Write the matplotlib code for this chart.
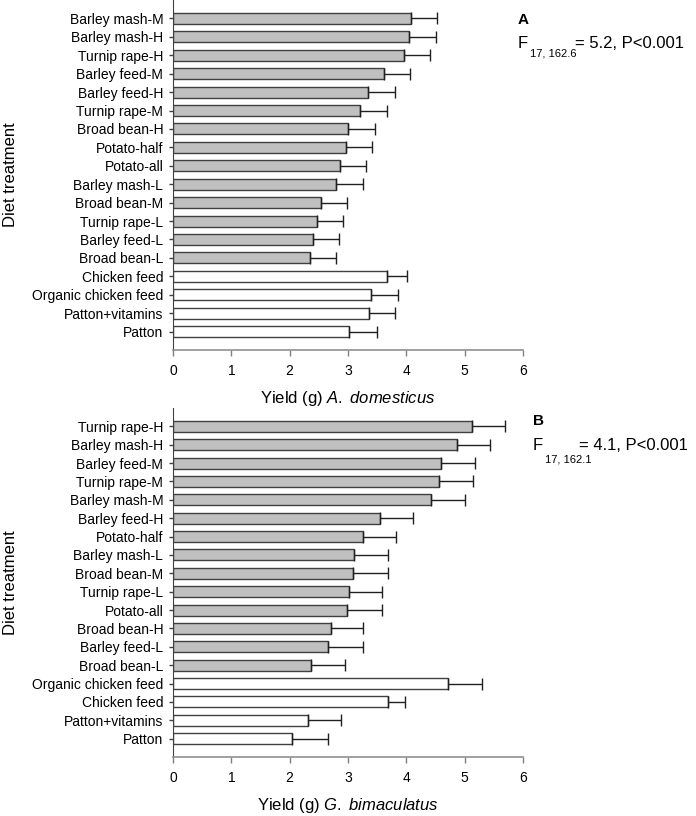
import numpy as np
import matplotlib
matplotlib.use("Agg")
import matplotlib.pyplot as plt

plt.rcParams['font.family'] = ['Liberation Sans', 'DejaVu Sans']
plt.rcParams['mathtext.fontset'] = 'custom'
plt.rcParams['mathtext.rm'] = 'Liberation Sans'
plt.rcParams['mathtext.it'] = 'Liberation Sans:italic'

# panel A: A. domesticus (top to bottom)
labels_a = ["Barley mash-M", "Barley mash-H", "Turnip rape-H", "Barley feed-M",
            "Barley feed-H", "Turnip rape-M", "Broad bean-H", "Potato-half",
            "Potato-all", "Barley mash-L", "Broad bean-M", "Turnip rape-L",
            "Barley feed-L", "Broad bean-L", "Chicken feed", "Organic chicken feed",
            "Patton+vitamins", "Patton"]
mean_a = [4.08, 4.04, 3.96, 3.61, 3.35, 3.20, 3.00, 2.96, 2.86, 2.80, 2.54, 2.47,
          2.40, 2.34, 3.67, 3.39, 3.36, 3.02]
top_a = [4.52, 4.50, 4.41, 4.06, 3.81, 3.66, 3.46, 3.41, 3.31, 3.25, 2.98, 2.92,
         2.85, 2.80, 4.01, 3.85, 3.81, 3.49]
control_a = [False] * 14 + [True] * 4

# panel B: G. bimaculatus (top to bottom)
labels_b = ["Turnip rape-H", "Barley mash-H", "Barley feed-M", "Turnip rape-M",
            "Barley mash-M", "Barley feed-H", "Potato-half", "Barley mash-L",
            "Broad bean-M", "Turnip rape-L", "Potato-all", "Broad bean-H",
            "Barley feed-L", "Broad bean-L", "Organic chicken feed", "Chicken feed",
            "Patton+vitamins", "Patton"]
mean_b = [5.12, 4.86, 4.59, 4.56, 4.43, 3.54, 3.25, 3.10, 3.08, 3.02, 2.98, 2.70,
          2.65, 2.36, 4.72, 3.69, 2.31, 2.04]
top_b = [5.69, 5.43, 5.17, 5.14, 5.00, 4.12, 3.83, 3.69, 3.68, 3.59, 3.58, 3.26,
         3.25, 2.94, 5.30, 3.98, 2.88, 2.65]
control_b = [False] * 14 + [True] * 4


def panel(ax, labels, means, tops, control, xlab_sp):
    n = len(labels)
    y = np.arange(n)[::-1]
    means = np.array(means)
    err = np.array(tops) - means
    colors = ['white' if c else '#c0c0c0' for c in control]
    ax.barh(y, means, height=0.6, color=colors, edgecolor='#404040', linewidth=1.0,
            xerr=[np.zeros(n), err],
            error_kw=dict(ecolor='#202020', elinewidth=1.0, capsize=4.5, capthick=1.0))
    ax.set_xlim(0, 6)
    ax.set_ylim(-1, n)
    ax.set_yticks(y)
    ax.set_yticklabels(labels, fontsize=10)
    ax.set_xticks(range(7))
    ax.tick_params(axis='x', labelsize=10, length=4, width=1, color='#808080', pad=6)
    ax.tick_params(axis='y', length=3, width=1, color='#404040', pad=4)
    for s in ['top', 'right']:
        ax.spines[s].set_visible(False)
    ax.spines['bottom'].set_color('#909090')
    ax.spines['bottom'].set_linewidth(1.2)
    ax.spines['left'].set_color('#404040')
    ax.set_xlabel("Yield (g) $\\mathit{" + xlab_sp + "}$", fontsize=12, labelpad=8)
    ax.set_ylabel("Diet treatment", fontsize=12, labelpad=10)


def stat_text(fig, letter, sub, rest, x, y_letter, y_f, x_sub, y_sub, x_rest):
    H = 816.0
    W = 696.0
    fig.text(x / W, 1 - y_letter / H, letter, fontsize=11, fontweight='bold',
             va='center', ha='left')
    fig.text(x / W, 1 - y_f / H, "F", fontsize=12, va='center', ha='left')
    fig.text(x_sub / W, 1 - y_sub / H, sub, fontsize=8, va='center', ha='left')
    fig.text(x_rest / W, 1 - y_f / H, rest, fontsize=12, va='center', ha='left')


fig = plt.figure(figsize=(6.96, 8.16), dpi=100)
ax1 = fig.add_axes([173 / 696, 1 - 350 / 816, 350 / 696, 350 / 816])
ax2 = fig.add_axes([173 / 696, 1 - 757 / 816, 350 / 696, 349 / 816])

panel(ax1, labels_a, mean_a, top_a, control_a, "A.\\ domesticus")
panel(ax2, labels_b, mean_b, top_b, control_b, "G.\\ bimaculatus")

stat_text(fig, "A", "17, 162.6", "= 5.2, P<0.001", 518, 20, 43, 530, 53, 575)
stat_text(fig, "B", "17, 162.1", "= 4.1, P<0.001", 533, 421, 446, 545, 459, 579)

fig.savefig("out.png", dpi=100)
